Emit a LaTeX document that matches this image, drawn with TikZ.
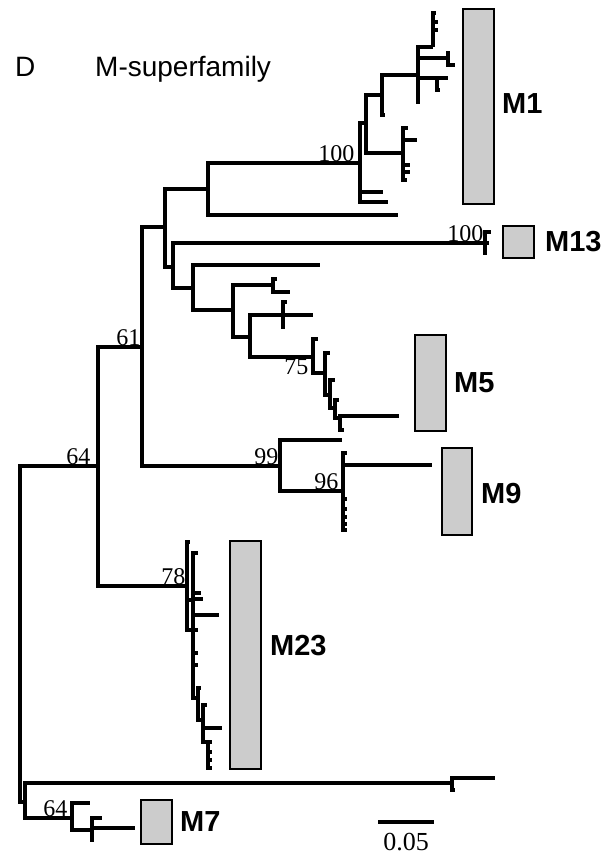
\documentclass[tikz,border=0pt]{standalone}
\usepackage{fontspec}
\setmainfont{Liberation Serif}
\setsansfont{Liberation Sans}
\usetikzlibrary{positioning}

\begin{document}
\begin{tikzpicture}[x=1pt, y=-1pt,
        branch/.style={line width=4.8pt, line join=miter},
        boot/.style={font=\fontsize{24}{24}\selectfont, inner sep=1.5pt},
        clbox/.style={draw, line width=2pt, fill=black!20, inner sep=0pt, anchor=north west},
        clname/.style={font=\sffamily\bfseries\fontsize{29}{29}\selectfont, inner sep=0pt}]
    \useasboundingbox (0,0) rectangle (612,859);

    \node[font=\sffamily\fontsize{28}{28}\selectfont, anchor=base west, inner sep=0pt] (panel) at (15,77) {D};
    \node[font=\sffamily\fontsize{28}{28}\selectfont, anchor=base west, inner sep=0pt] (title) at (95,77) {M-superfamily};

    \coordinate (root) at (20,634);
    \coordinate (n64) at (98,466);
    \coordinate (n61) at (142,347);
    \coordinate (na) at (165,227);
    \coordinate (nb) at (208,189);
    \coordinate (n100) at (360,163);
    \coordinate (nd) at (366,123);
    \coordinate (ne) at (382,95);
    \coordinate (ng) at (418,75);
    \coordinate (nh) at (433,47);
    \coordinate (ni) at (448,58);
    \coordinate (nj) at (437,78);
    \coordinate (nf) at (403,153);
    \coordinate (nc) at (173,267);
    \coordinate (n13) at (485,243);
    \coordinate (nk) at (193,288);
    \coordinate (nl) at (233,310);
    \coordinate (nm) at (273,285);
    \coordinate (nn) at (250,337);
    \coordinate (no) at (283,315);
    \coordinate (n75) at (313,357);
    \coordinate (np) at (325,373);
    \coordinate (nq) at (330,395);
    \coordinate (nr) at (335,408);
    \coordinate (ns) at (340,418);
    \coordinate (n99) at (280,466);
    \coordinate (n96) at (343,491);
    \coordinate (n78) at (187,586);
    \coordinate (nt) at (193,600);
    \coordinate (nu) at (198,698);
    \coordinate (nv) at (203,720);
    \coordinate (nw) at (208,742);
    \coordinate (r2) at (25,802);
    \coordinate (nx) at (452,783);
    \coordinate (n64b) at (72,818);
    \coordinate (ny) at (92,830);

    \foreach \p/\c in {root/n64, root/r2, n64/n61, n64/n78, n61/na, n61/n99,
            na/nb, na/nc, nb/n100, n100/nd, nd/ne, nd/nf, ne/ng, ng/nh, ng/ni, ng/nj,
            nc/n13, nc/nk, nk/nl, nl/nm, nl/nn, nn/no, nn/n75, n75/np, np/nq, nq/nr, nr/ns,
            n99/n96, n78/nt, nt/nu, nu/nv, nv/nw, r2/nx, r2/n64b, n64b/ny}
        \draw[branch] (\p) |- (\c);

    \foreach \p/\x/\y [count=\i] in {nb/398/215, n100/383/192, n100/388/202, ne/385/115,
            ng/420/102, nh/436/13, nh/438/22, nh/438/30, ni/450/53, ni/455/65, nj/448/78,
            nj/440/90, nf/408/128, nf/417/140, nf/410/165, nf/410/172, nf/407/180,
            n13/491/232, n13/489/243, n13/487/253, nk/320/265, nm/277/279, nm/290/292,
            no/287/302, no/313/315, no/285/327, n75/318/339, np/330/353, nq/335/380,
            nr/339/400, ns/399/416, ns/344/430, n99/342/440, n96/347/453, n96/432/465,
            n96/347/499, n96/347/509, n96/347/517, n96/347/524, n96/347/530,
            n78/190/542, n78/198/630, nt/198/553, nt/201/593, nt/203/599, nt/219/615,
            nt/198/653, nt/198/665, nu/201/688, nv/207/705, nv/222/728, nw/212/742,
            nw/212/752, nw/212/760, nw/212/768, nx/495/778, nx/455/790, n64b/90/803,
            ny/102/818, ny/135/828, ny/94/840}
        {
        \coordinate (t\i) at (\x,\y);
        \draw[branch] (\p) |- (t\i);
        }

    \node[boot, anchor=south east, xshift=-4pt] (b100) at (n100) {100};
    \node[boot, anchor=south east] (b13) at (n13) {100};
    \node[boot, anchor=south east] (b61) at (n61) {61};
    \node[boot, anchor=south east, xshift=-6pt] (b64) at (n64) {64};
    \node[boot, anchor=south east] (b99) at (n99) {99};
    \node[boot, anchor=south east, xshift=-3pt] (b96) at (n96) {96};
    \node[boot, anchor=north east, xshift=-3pt] (b75) at (n75) {75};
    \node[boot, anchor=south east] (b78) at (n78) {78};
    \node[boot, anchor=south east, xshift=-3pt] (b64b) at (n64b) {64};

    \node[clbox, minimum width=31pt, minimum height=195pt] (bm1) at (462,8) {};
    \node[clbox, minimum width=31pt, minimum height=32pt] (bm13) at (502,225) {};
    \node[clbox, minimum width=31pt, minimum height=96pt] (bm5) at (414,334) {};
    \node[clbox, minimum width=30pt, minimum height=87pt] (bm9) at (441,447) {};
    \node[clbox, minimum width=31pt, minimum height=228pt] (bm23) at (229,540) {};
    \node[clbox, minimum width=31pt, minimum height=44pt] (bm7) at (140,799) {};

    \node[clname, right=7pt of bm1, yshift=3pt] (lm1) {M1};
    \node[clname, right=10pt of bm13] (lm13) {M13};
    \node[clname, right=7pt of bm5] (lm5) {M5};
    \node[clname, right=8pt of bm9, yshift=-2pt] (lm9) {M9};
    \node[clname, right=8pt of bm23, yshift=9pt] (lm23) {M23};
    \node[clname, right=7pt of bm7] (lm7) {M7};

    \coordinate (sbl) at (378,822);
    \coordinate (sbr) at (434,822);
    \draw[line width=4.8pt] (sbl) -- (sbr);
    \node[font=\fontsize{26}{26}\selectfont, anchor=base, inner sep=0pt] (sbt) at (406,850) {0.05};
\end{tikzpicture}
\end{document}
